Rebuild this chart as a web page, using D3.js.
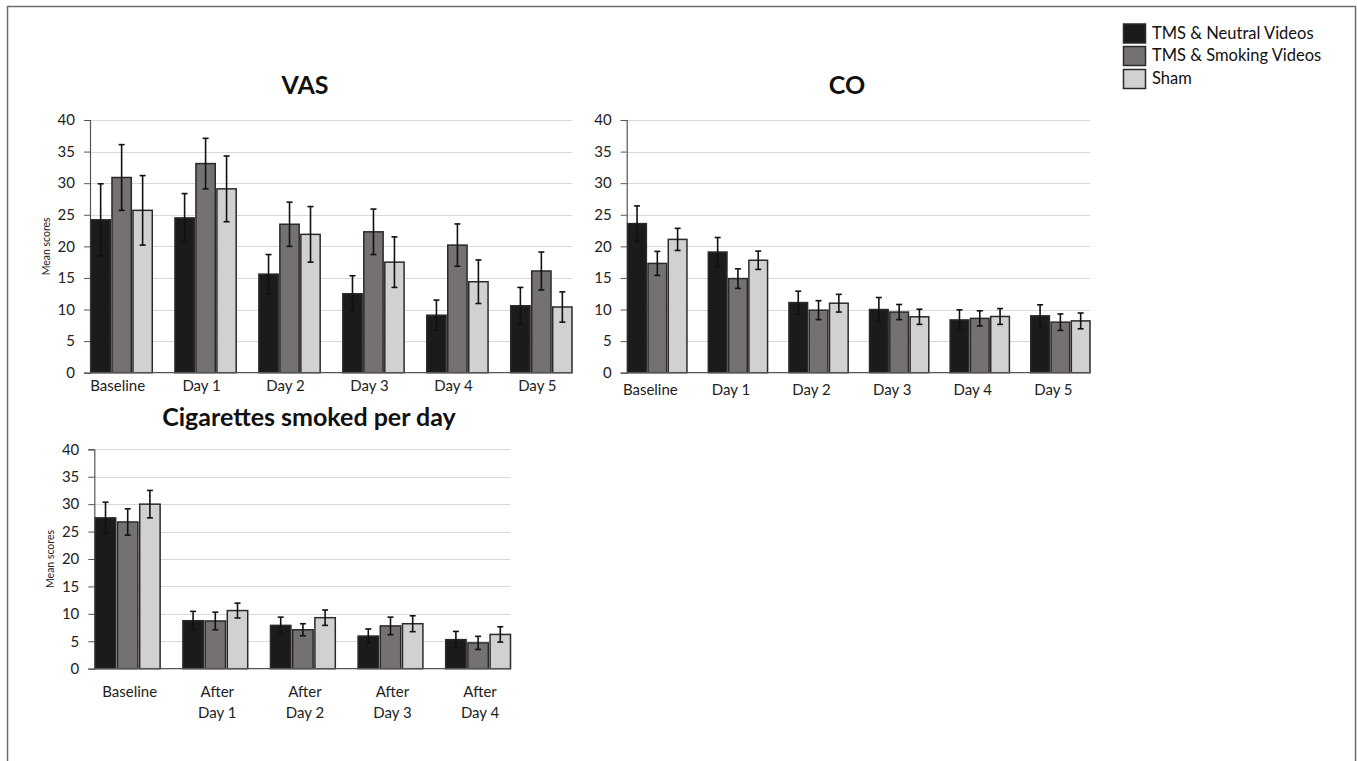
<!DOCTYPE html>
<html>
<head>
<meta charset="utf-8">
<script src="https://cdn.jsdelivr.net/npm/d3@7"></script>
<style>
  html, body { margin: 0; padding: 0; background: #fff; }
  svg { display: block; font-family: Lato, "Noto Sans", sans-serif; }
</style>
</head>
<body>
<svg id="chart" width="1357" height="761"></svg>
<script>
// ---------- DATA ----------
const seriesNames = ["TMS & Neutral Videos", "TMS & Smoking Videos", "Sham"];
const seriesColors = ["#1b1b1b", "#767171", "#d2d1d1"];
const yTicks = [0, 5, 10, 15, 20, 25, 30, 35, 40];

const vasCategories = ["Baseline", "Day 1", "Day 2", "Day 3", "Day 4", "Day 5"];
const vasNeutral    = [24.2, 24.5, 15.6, 12.5, 9.1, 10.6];
const vasSmoking    = [30.9, 33.1, 23.5, 22.3, 20.2, 16.1];
const vasSham       = [25.7, 29.1, 21.9, 17.5, 14.4, 10.4];
const vasNeutralErr = [5.7, 3.85, 3.1, 2.85, 2.4, 2.9];
const vasSmokingErr = [5.2, 4.0, 3.5, 3.6, 3.35, 3.0];
const vasShamErr    = [5.5, 5.2, 4.4, 4.0, 3.45, 2.4];

const coCategories = ["Baseline", "Day 1", "Day 2", "Day 3", "Day 4", "Day 5"];
const coNeutral    = [23.6, 19.1, 11.1, 10.0, 8.35, 9.0];
const coSmoking    = [17.3, 14.9, 9.9, 9.6, 8.6, 8.0];
const coSham       = [21.1, 17.8, 11.0, 8.85, 8.9, 8.2];
const coNeutralErr = [2.8, 2.3, 1.8, 1.9, 1.6, 1.75];
const coSmokingErr = [1.9, 1.55, 1.5, 1.2, 1.2, 1.3];
const coShamErr    = [1.75, 1.45, 1.4, 1.2, 1.25, 1.25];

const cigCategories = ["Baseline", "After\nDay 1", "After\nDay 2", "After\nDay 3", "After\nDay 4"];
const cigNeutral    = [27.5, 8.75, 7.9, 5.95, 5.3];
const cigSmoking    = [26.75, 8.7, 7.1, 7.8, 4.7];
const cigSham       = [30.0, 10.6, 9.3, 8.2, 6.25];
const cigNeutralErr = [2.85, 1.7, 1.5, 1.3, 1.5];
const cigSmokingErr = [2.4, 1.6, 1.1, 1.6, 1.2];
const cigShamErr    = [2.5, 1.35, 1.4, 1.45, 1.4];

// ---------- DRAWING ----------
const svg = d3.select("#chart");

// outer frame
svg.append("path")
  .attr("d", "M7.5,761 L7.5,6.5 L1355.5,6.5 L1355.5,761")
  .attr("fill", "none").attr("stroke", "#6b6b6b").attr("stroke-width", 1.5);

function drawChart(opt) {
  const g = svg.append("g");
  const x0 = d3.scaleBand().domain(opt.categories).range([opt.left + 1, opt.right]).paddingInner(opt.padInner).paddingOuter(0);
  const x1 = d3.scaleBand().domain(d3.range(3)).range([0, x0.bandwidth()]).paddingInner(0.08);
  const y = d3.scaleLinear().domain([0, 40]).range([opt.bottom, opt.top]);

  // gridlines
  g.append("g").selectAll("line").data(yTicks.filter(d => d > 0)).join("line")
    .attr("x1", opt.left).attr("x2", opt.right)
    .attr("y1", d => Math.round(y(d)) + 0.5).attr("y2", d => Math.round(y(d)) + 0.5)
    .attr("stroke", "#d9d9d9").attr("stroke-width", 1.2);

  // y axis
  const yAxis = d3.axisLeft(y).tickValues(yTicks).tickSize(6).tickPadding(9).tickFormat(d3.format("d"));
  const ya = g.append("g").attr("transform", `translate(${opt.left},0)`).call(yAxis);
  ya.select(".domain").attr("stroke", "#555").attr("stroke-width", 1.2);
  ya.selectAll(".tick line").attr("stroke", "#555");
  ya.selectAll(".tick text").attr("font-size", 15).attr("fill", "#222").attr("font-family", "Lato");

  // bars
  const rows = opt.categories.map((c, i) => opt.values.map((vals, s) => ({ cat: c, s, v: vals[i], e: opt.errors[s][i] })));
  const groups = g.append("g").selectAll("g").data(rows).join("g")
    .attr("transform", (d, i) => `translate(${x0(opt.categories[i])},0)`);
  groups.selectAll("rect").data(d => d).join("rect")
    .attr("x", d => x1(d.s)).attr("width", x1.bandwidth())
    .attr("y", d => y(d.v)).attr("height", d => y(0) - y(d.v))
    .attr("fill", d => seriesColors[d.s]).attr("stroke", "#2a2a2a").attr("stroke-width", 1.5);

  // error bars
  const eb = groups.selectAll("g.err").data(d => d).join("g").attr("class", "err")
    .attr("transform", d => `translate(${x1(d.s) + x1.bandwidth() / 2},0)`);
  eb.append("line").attr("x1", 0).attr("x2", 0).attr("y1", d => y(d.v + d.e)).attr("y2", d => y(d.v - d.e))
    .attr("stroke", "#111").attr("stroke-width", 1.6);
  eb.append("line").attr("x1", -3).attr("x2", 3).attr("y1", d => y(d.v + d.e)).attr("y2", d => y(d.v + d.e))
    .attr("stroke", "#111").attr("stroke-width", 1.6);
  eb.append("line").attr("x1", -3).attr("x2", 3).attr("y1", d => y(d.v - d.e)).attr("y2", d => y(d.v - d.e))
    .attr("stroke", "#111").attr("stroke-width", 1.6);

  // x baseline
  g.append("line").attr("x1", opt.left).attr("x2", opt.right)
    .attr("y1", y(0)).attr("y2", y(0)).attr("stroke", "#555").attr("stroke-width", 1.2);

  // category labels
  const lab = g.append("g").selectAll("text").data(opt.categories).join("text")
    .attr("x", d => x0(d) + x0.bandwidth() / 2 + opt.labelShift)
    .attr("y", opt.labelY)
    .attr("text-anchor", "middle").attr("font-size", 15).attr("fill", "#222");
  lab.each(function (d) {
    const lines = d.split("\n");
    const t = d3.select(this);
    lines.forEach((ln, k) => t.append("tspan").attr("x", t.attr("x")).attr("dy", k === 0 ? 0 : 20.5).text(ln));
  });

  // title
  g.append("text").attr("x", opt.titleX).attr("y", opt.titleY).attr("text-anchor", "middle")
    .attr("font-size", 25).attr("font-weight", "bold").attr("fill", "#111").text(opt.title);

  // y label
  if (opt.yLabel) {
    g.append("text").attr("transform", `translate(${opt.yLabelX},${(opt.top + opt.bottom) / 2}) rotate(-90)`)
      .attr("text-anchor", "middle").attr("font-size", 10.5).attr("fill", "#222").text(opt.yLabel);
  }
}

drawChart({
  title: "VAS", titleX: 305, titleY: 94,
  categories: vasCategories,
  values: [vasNeutral, vasSmoking, vasSham],
  errors: [vasNeutralErr, vasSmokingErr, vasShamErr],
  left: 90, right: 572, top: 120, bottom: 372.7, padInner: 0.27,
  labelY: 391, labelShift: -4, yLabel: "Mean scores", yLabelX: 50
});

drawChart({
  title: "CO", titleX: 847, titleY: 94,
  categories: coCategories,
  values: [coNeutral, coSmoking, coSham],
  errors: [coNeutralErr, coSmokingErr, coShamErr],
  left: 626.7, right: 1090, top: 120, bottom: 372.7, padInner: 0.265,
  labelY: 395, labelShift: -7, yLabel: null
});

drawChart({
  title: "Cigarettes smoked per day", titleX: 309, titleY: 426,
  categories: cigCategories,
  values: [cigNeutral, cigSmoking, cigSham],
  errors: [cigNeutralErr, cigSmokingErr, cigShamErr],
  left: 94.3, right: 510.5, top: 449.3, bottom: 668.7, padInner: 0.26,
  labelY: 697, labelShift: 2, yLabel: "Mean scores", yLabelX: 54
});

// legend
const leg = svg.append("g").selectAll("g").data(seriesNames).join("g")
  .attr("transform", (d, i) => `translate(1123.5,${[24, 46.5, 69.5][i]})`);
leg.append("rect").attr("width", 22).attr("height", 19)
  .attr("fill", (d, i) => seriesColors[i]).attr("stroke", "#2a2a2a").attr("stroke-width", 1.5);
leg.append("text").attr("x", 28.5).attr("y", 14.5).attr("font-size", 16.5).attr("fill", "#111").text(d => d);
</script>
</body>
</html>
